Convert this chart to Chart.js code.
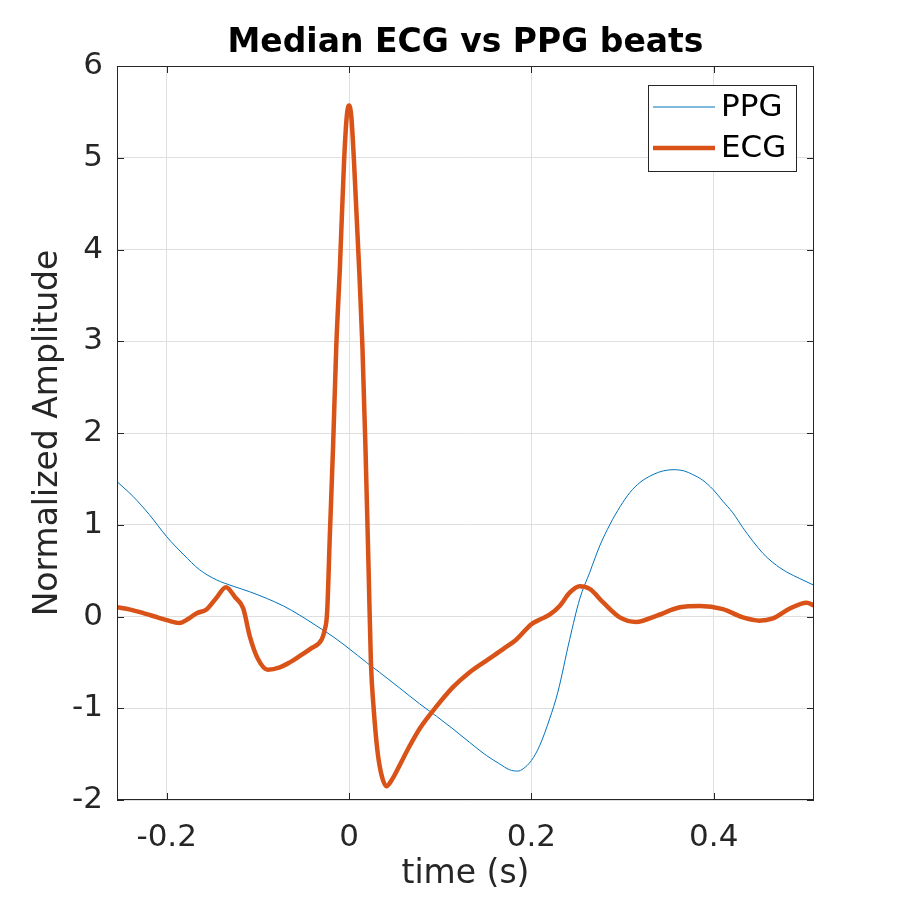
<!DOCTYPE html>
<html>
<head>
<meta charset="utf-8">
<script src="https://cdn.jsdelivr.net/npm/chart.js@4.4.0/dist/chart.umd.min.js"></script>
<style>
  body { margin: 0; background: #fff; }
</style>
</head>
<body>
<canvas id="chart" width="900" height="900"></canvas>
<script>
// PPG median beat (thin blue line)
var ppgTime = [-0.2545, -0.237, -0.219, -0.2, -0.182, -0.164, -0.1455, -0.127, -0.109, -0.091,
  -0.072, -0.054, -0.036, -0.0175, 0, 0.019, 0.0337, 0.0556, 0.0776, 0.0959, 0.114, 0.132,
  0.1507, 0.165, 0.176, 0.185, 0.191, 0.2, 0.209, 0.22, 0.229, 0.242, 0.253, 0.264, 0.275, 0.286,
  0.2975, 0.308, 0.319, 0.3335, 0.345, 0.3565, 0.368, 0.377, 0.388, 0.3993, 0.41, 0.421, 0.432,
  0.443, 0.454, 0.465, 0.48, 0.4945, 0.51];
var ppgValues = [1.47, 1.31, 1.11, 0.87, 0.68, 0.51, 0.40, 0.33, 0.27, 0.20,
  0.115, 0.014, -0.10, -0.22, -0.35, -0.50, -0.61, -0.78, -0.953, -1.087, -1.225, -1.37,
  -1.515, -1.605, -1.67, -1.685, -1.66, -1.57, -1.41, -1.116, -0.826, -0.25, 0.19, 0.48, 0.77, 1.0,
  1.20, 1.35, 1.46, 1.547, 1.588, 1.60, 1.585, 1.547, 1.485, 1.384, 1.257, 1.13, 0.967,
  0.82, 0.688, 0.587, 0.485, 0.413, 0.34];

// ECG median beat (thick orange line)
var ecgTime = [-0.2545, -0.24, -0.225, -0.21, -0.2, -0.186, -0.177, -0.167, -0.156, -0.146,
  -0.135, -0.125, -0.116, -0.109, -0.1, -0.089, -0.076, -0.065, -0.054, -0.042, -0.030, -0.027,
  -0.024, -0.021, -0.0175, -0.014, -0.010, -0.0055, -0.0025, 0, 0.0025, 0.0055, 0.011, 0.0147,
  0.018, 0.0215, 0.024, 0.027, 0.031, 0.035, 0.041, 0.047, 0.0556, 0.066, 0.0776, 0.0959, 0.114,
  0.132, 0.1507, 0.169, 0.1836, 0.2, 0.21, 0.22, 0.231, 0.242, 0.253, 0.264, 0.279, 0.297, 0.315,
  0.337, 0.363, 0.385, 0.41, 0.432, 0.45, 0.465, 0.4835, 0.502, 0.51];
var ecgValues = [0.10, 0.075, 0.035, -0.01, -0.04, -0.07, -0.03, 0.036, 0.08, 0.196,
  0.32, 0.21, 0.087, -0.21, -0.46, -0.58, -0.555, -0.50, -0.43, -0.35, -0.25, -0.16,
  0.05, 0.9, 1.85, 2.94, 3.81, 4.95, 5.45, 5.57, 5.45, 4.95, 3.81, 2.94,
  1.85, 0.5, -0.5, -1.0, -1.45, -1.7, -1.85, -1.78, -1.62, -1.42, -1.22, -0.98, -0.77,
  -0.61, -0.48, -0.355, -0.25, -0.084, -0.03, 0.02, 0.115, 0.26, 0.33, 0.30, 0.15, -0.01, -0.06,
  0.007, 0.10, 0.115, 0.08, -0.01, -0.045, -0.02, 0.087, 0.15, 0.12];

var xTicks = [-0.2, 0, 0.2, 0.4];
var yTicks = [-2, -1, 0, 1, 2, 3, 4, 5, 6];
var seriesNames = ["PPG", "ECG"];
var chartTitle = "Median ECG vs PPG beats";

var ppgColor = "#0072BD";
var ecgColor = "#D95319";
var axisColor = "#262626";
var fontFamily = "'DejaVu Sans', sans-serif";

function toPoints(xs, ys) {
  return xs.map(function (x, i) { return { x: x, y: ys[i] }; });
}

// Title over the plot area, box around the axes, inward tick marks and the legend
var boxPlugin = {
  id: "matlabBox",
  afterDatasetsDraw: function (chart) {
    var ctx = chart.ctx;
    var area = chart.chartArea;
    var xs = chart.scales.x;
    var ys = chart.scales.y;
    var tl = 7;
    ctx.save();

    ctx.fillStyle = "#000";
    ctx.font = "bold 33px " + fontFamily;
    ctx.textAlign = "center";
    ctx.textBaseline = "middle";
    ctx.fillText(chartTitle, (area.left + area.right) / 2, 43);

    ctx.strokeStyle = axisColor;
    ctx.lineWidth = 1;
    ctx.strokeRect(area.left + 0.5, area.top + 0.5, area.right - area.left - 1, area.bottom - area.top - 1);
    ctx.beginPath();
    xTicks.forEach(function (v) {
      var px = Math.round(xs.getPixelForValue(v)) + 0.5;
      ctx.moveTo(px, area.bottom);
      ctx.lineTo(px, area.bottom - tl);
      ctx.moveTo(px, area.top);
      ctx.lineTo(px, area.top + tl);
    });
    yTicks.forEach(function (v) {
      var py = Math.round(ys.getPixelForValue(v)) + 0.5;
      ctx.moveTo(area.left, py);
      ctx.lineTo(area.left + tl, py);
      ctx.moveTo(area.right, py);
      ctx.lineTo(area.right - tl, py);
    });
    ctx.stroke();

    // legend
    var lx = 648, ly = 85, lw = 148, lh = 86;
    ctx.fillStyle = "#fff";
    ctx.fillRect(lx, ly, lw, lh);
    ctx.strokeStyle = axisColor;
    ctx.lineWidth = 1;
    ctx.strokeRect(lx + 0.5, ly + 0.5, lw, lh);
    var rows = [{ y: 107, color: ppgColor, width: 1 }, { y: 148, color: ecgColor, width: 4.5 }];
    ctx.font = "31px " + fontFamily;
    ctx.textAlign = "left";
    rows.forEach(function (r, i) {
      ctx.beginPath();
      ctx.strokeStyle = r.color;
      ctx.lineWidth = r.width;
      ctx.moveTo(653, r.y);
      ctx.lineTo(715, r.y);
      ctx.stroke();
      ctx.fillStyle = "#000";
      ctx.fillText(seriesNames[i], 721, r.y + 1);
    });
    ctx.restore();
  }
};

new Chart(document.getElementById("chart"), {
  type: "line",
  data: {
    datasets: [
      {
        label: seriesNames[0],
        data: toPoints(ppgTime, ppgValues),
        borderColor: ppgColor,
        borderWidth: 1,
        pointRadius: 0,
        cubicInterpolationMode: "monotone",
        order: 1
      },
      {
        label: seriesNames[1],
        data: toPoints(ecgTime, ecgValues),
        borderColor: ecgColor,
        borderWidth: 4.5,
        pointRadius: 0,
        cubicInterpolationMode: "monotone",
        order: 0
      }
    ]
  },
  options: {
    responsive: false,
    animation: false,
    devicePixelRatio: 1,
    layout: { padding: { left: 0, right: 86, top: 66, bottom: 0 } },
    plugins: {
      legend: { display: false },
      tooltip: { enabled: false },
      title: { display: false }
    },
    scales: {
      x: {
        type: "linear",
        min: -0.2545,
        max: 0.51,
        afterBuildTicks: function (scale) {
          scale.ticks = xTicks.map(function (v) { return { value: v }; });
        },
        afterFit: function (scale) { scale.height = 100; },
        grid: { color: "#dfdfdf", drawTicks: false },
        border: { display: false },
        ticks: {
          color: axisColor,
          padding: 22,
          maxRotation: 0,
          font: { family: fontFamily, size: 31, lineHeight: 1 },
          callback: function (v) { return String(v); }
        },
        title: {
          display: true,
          text: "time (s)",
          color: axisColor,
          font: { family: fontFamily, size: 33, lineHeight: 1 },
          padding: { top: 0, bottom: 9 }
        }
      },
      y: {
        min: -2,
        max: 6,
        afterBuildTicks: function (scale) {
          scale.ticks = yTicks.map(function (v) { return { value: v }; });
        },
        afterFit: function (scale) { scale.width = 117; },
        grid: { color: "#dfdfdf", drawTicks: false },
        border: { display: false },
        ticks: {
          color: axisColor,
          padding: 14,
          font: { family: fontFamily, size: 31, lineHeight: 1 },
          callback: function (v) { return String(v); }
        },
        title: {
          display: true,
          text: "Normalized Amplitude",
          color: axisColor,
          font: { family: fontFamily, size: 33, lineHeight: 1 },
          padding: { top: 32, bottom: 0 }
        }
      }
    }
  },
  plugins: [boxPlugin]
});
</script>
</body>
</html>
